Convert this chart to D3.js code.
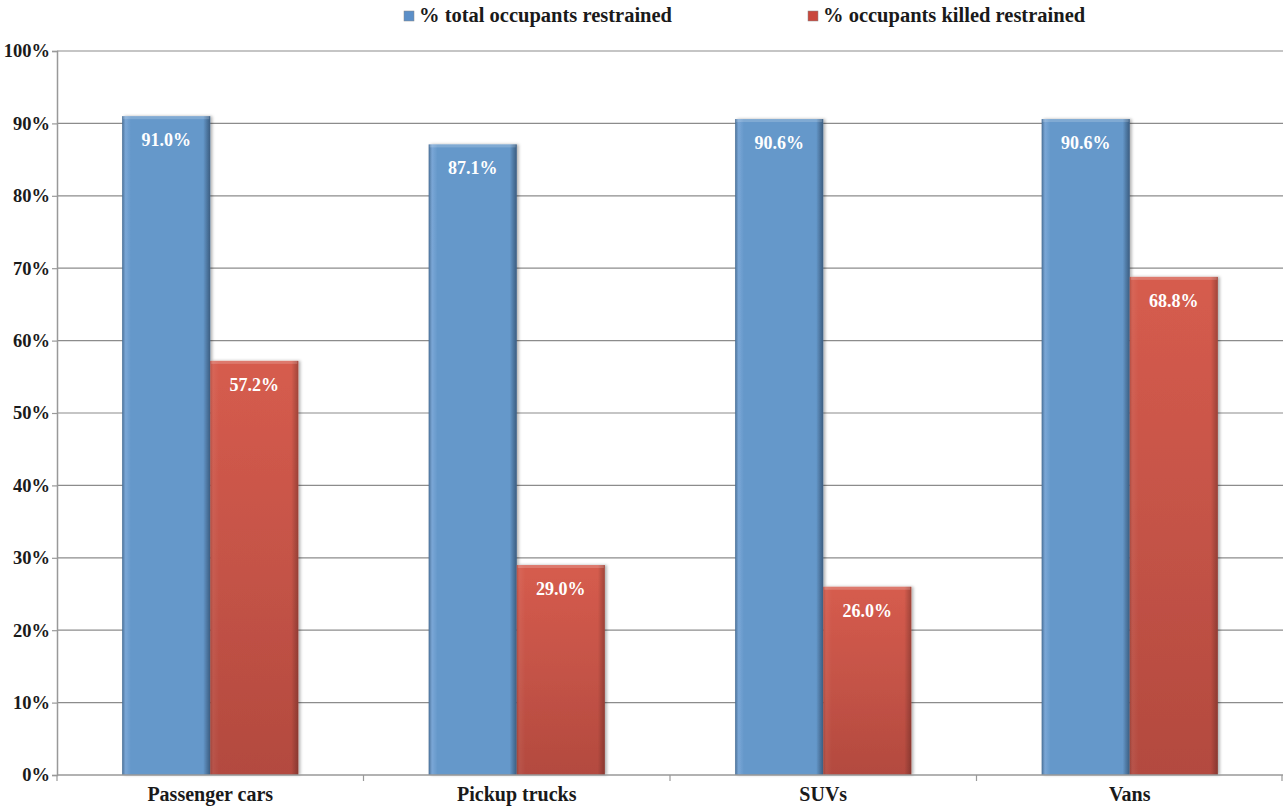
<!DOCTYPE html>
<html>
<head>
<meta charset="utf-8">
<script src="https://cdn.jsdelivr.net/npm/d3@7"></script>
<style>
  html, body { margin: 0; padding: 0; background: #fff; }
  svg { display: block; }
  text { font-family: "Liberation Serif", "DejaVu Serif", serif; font-weight: bold; }
</style>
</head>
<body>
<svg id="chart" width="1285" height="808"></svg>
<script>
// Vehicle categories and restraint-use shares (percent)
const categories = ["Passenger cars", "Pickup trucks", "SUVs", "Vans"];
const totalRestrained = [91.0, 87.1, 90.6, 90.6];
const killedRestrained = [57.2, 29.0, 26.0, 68.8];
const seriesNames = ["% total occupants restrained", "% occupants killed restrained"];
const yTicks = [0, 10, 20, 30, 40, 50, 60, 70, 80, 90, 100];

const svg = d3.select("#chart");
const margin = { left: 57, right: 2, top: 51, bottom: 33 };
const W = 1285, H = 808;
const x0 = margin.left, x1 = W - margin.right;
const y0 = H - margin.bottom, y1 = margin.top;

const x = d3.scaleBand().domain(categories).range([x0, x1]).paddingInner(0).paddingOuter(0);
const xs = d3.scaleBand().domain([0, 1]).range([0, x.bandwidth()]).paddingInner(0).paddingOuter(0.74);
const y = d3.scaleLinear().domain([0, 100]).range([y0, y1]);

// Gradients for beveled bars
const defs = svg.append("defs");
function barGradient(id, light, mid, dark) {
  const g = defs.append("linearGradient").attr("id", id).attr("x1", 0).attr("x2", 1).attr("y1", 0).attr("y2", 0);
  g.append("stop").attr("offset", 0).attr("stop-color", dark);
  g.append("stop").attr("offset", 0.04).attr("stop-color", light);
  g.append("stop").attr("offset", 0.1).attr("stop-color", mid);
  g.append("stop").attr("offset", 0.92).attr("stop-color", mid);
  g.append("stop").attr("offset", 1).attr("stop-color", dark);
}
barGradient("gBlue", "#73a2d4", "#6598ca", "#4f7cab");
function vertGradient(id, top, bottom) {
  const g = defs.append("linearGradient").attr("id", id).attr("x1", 0).attr("x2", 0).attr("y1", 0).attr("y2", 1);
  g.append("stop").attr("offset", 0).attr("stop-color", top);
  g.append("stop").attr("offset", 1).attr("stop-color", bottom);
}
vertGradient("gRedV", "#d65c4e", "#b34a3f");
const edge = defs.append("linearGradient").attr("id", "gEdge").attr("x1", 0).attr("x2", 1);
edge.append("stop").attr("offset", 0).attr("stop-color", "#000").attr("stop-opacity", 0.15);
edge.append("stop").attr("offset", 0.04).attr("stop-color", "#fff").attr("stop-opacity", 0.05);
edge.append("stop").attr("offset", 0.1).attr("stop-color", "#fff").attr("stop-opacity", 0);
edge.append("stop").attr("offset", 0.92).attr("stop-color", "#000").attr("stop-opacity", 0);
edge.append("stop").attr("offset", 1).attr("stop-color", "#000").attr("stop-opacity", 0.25);
const shadow = defs.append("filter").attr("id", "shadow").attr("x", "-10%").attr("y", "-10%").attr("width", "130%").attr("height", "120%");
shadow.append("feDropShadow").attr("dx", 2).attr("dy", 0).attr("stdDeviation", 1.5).attr("flood-color", "#000").attr("flood-opacity", 0.3);

// Gridlines
svg.append("g").selectAll("line").data(yTicks.filter(t => t > 0)).join("line")
  .attr("x1", x0).attr("x2", x1)
  .attr("y1", d => y(d)).attr("y2", d => y(d))
  .attr("stroke", "#8c8c8c").attr("stroke-width", 1.2);

// Y axis
const yAxis = svg.append("g").attr("transform", `translate(${x0},0)`)
  .call(d3.axisLeft(y).tickValues(yTicks).tickSize(5).tickPadding(2).tickFormat(d => d + "%"));
yAxis.select(".domain").attr("stroke", "#999").attr("stroke-width", 1.5);
yAxis.selectAll(".tick line").attr("stroke", "#999").attr("stroke-width", 1.2);
yAxis.selectAll("text").attr("font-size", 18.5).attr("fill", "#1a1a1a")
  .style("font-family", "'Liberation Serif', serif").style("font-weight", "bold");

// Bars
const series = [
  { values: totalRestrained, fill: "url(#gBlue)" },
  { values: killedRestrained, fill: "url(#gRedV)" }
];
const bars = svg.append("g");
series.forEach((s, si) => {
  const g = bars.append("g");
  const data = categories.map((c, i) => ({ c, v: s.values[i] }));
  g.selectAll("rect.bar").data(data).join("rect").attr("class", "bar")
    .attr("x", d => x(d.c) + xs(si))
    .attr("width", xs.bandwidth())
    .attr("y", d => y(d.v))
    .attr("height", d => y(0) - y(d.v))
    .attr("fill", s.fill)
    .attr("filter", "url(#shadow)");
  g.selectAll("rect.edge").data(data).join("rect").attr("class", "edge")
    .attr("x", d => x(d.c) + xs(si))
    .attr("width", xs.bandwidth())
    .attr("y", d => y(d.v))
    .attr("height", d => y(0) - y(d.v))
    .attr("fill", "url(#gEdge)");
  // top bevel highlight
  g.selectAll("rect.top").data(data).join("rect").attr("class", "top")
    .attr("x", d => x(d.c) + xs(si) + 1)
    .attr("width", xs.bandwidth() - 2)
    .attr("y", d => y(d.v))
    .attr("height", 3)
    .attr("fill", "#fff").attr("opacity", 0.18);
  g.selectAll("text").data(data).join("text")
    .attr("x", d => x(d.c) + xs(si) + xs.bandwidth() / 2)
    .attr("y", d => y(d.v) + 30)
    .attr("text-anchor", "middle")
    .attr("font-size", 18)
    .attr("fill", "#fff")
    .text(d => d.v.toFixed(1) + "%");
});

// X axis
const xAxis = svg.append("g").attr("transform", `translate(0,${y0})`);
xAxis.append("line").attr("x1", x0).attr("x2", x1).attr("y1", 0).attr("y2", 0)
  .attr("stroke", "#999").attr("stroke-width", 1.5);
const bounds = categories.map(c => x(c)).concat([x1 - 1]);
xAxis.selectAll("line.tk").data(bounds).join("line").attr("class", "tk")
  .attr("x1", d => d).attr("x2", d => d).attr("y1", 0).attr("y2", 6)
  .attr("stroke", "#999").attr("stroke-width", 1.2);
xAxis.selectAll("text").data(categories).join("text")
  .attr("x", d => x(d) + x.bandwidth() / 2)
  .attr("y", 26)
  .attr("text-anchor", "middle")
  .attr("font-size", 20)
  .attr("fill", "#1a1a1a")
  .text(d => d);

// Legend
const legendColors = ["#5b8fc8", "#c9473c"];
const legendX = [404, 808];
const legend = svg.append("g");
seriesNames.forEach((n, i) => {
  legend.append("rect").attr("x", legendX[i]).attr("y", 11).attr("width", 10).attr("height", 10)
    .attr("fill", legendColors[i]).attr("stroke", "#888").attr("stroke-width", 0.5);
  legend.append("text").attr("x", legendX[i] + 15).attr("y", 22)
    .attr("font-size", 20.5).attr("fill", "#1a1a1a").text(n);
});
</script>
</body>
</html>
